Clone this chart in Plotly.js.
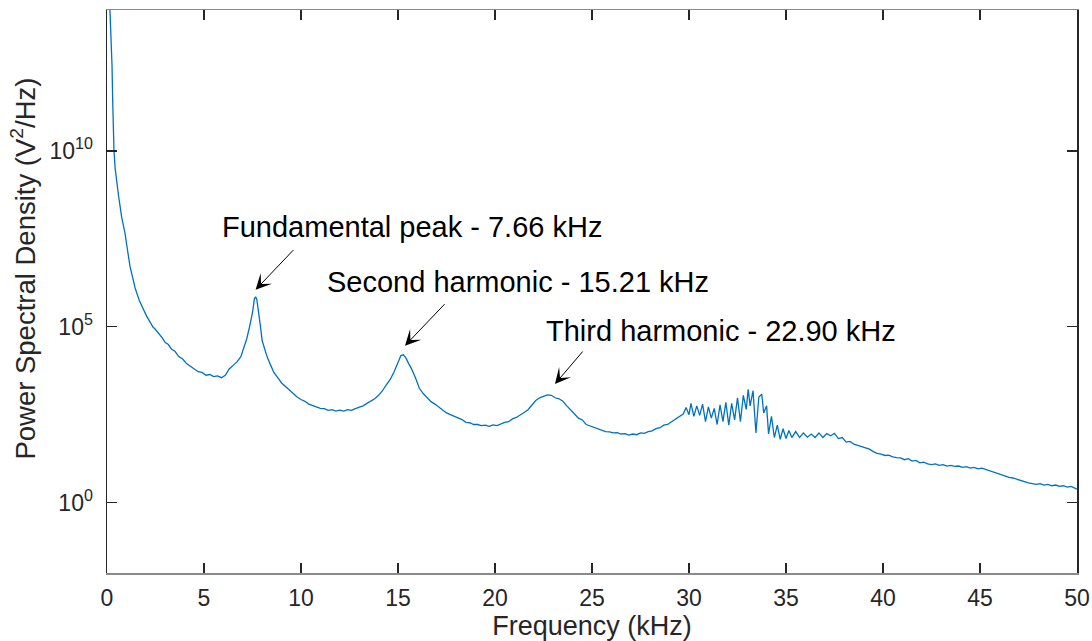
<!DOCTYPE html>
<html>
<head>
<meta charset="utf-8">
<script src="https://cdn.plot.ly/plotly-3.0.1.min.js"></script>
<style>html,body{margin:0;padding:0;background:#fff;}#chart{width:1092px;height:641px;}</style>
</head>
<body>
<div id="chart"></div>
<script>
// Frequency samples (kHz)
var freqKHz = [
0.05,0.10,0.15,0.19,0.22,0.26,0.29,0.32,0.36,0.42,0.50,0.60,0.76,0.93,1.05,1.19,1.30,1.45,1.66,1.85,
2.04,2.20,2.37,2.50,2.68,2.85,3.00,3.15,3.33,3.50,3.70,3.90,4.10,4.30,4.50,4.70,4.90,5.10,5.30,5.50,
5.70,5.90,6.10,6.30,6.50,6.70,6.90,7.05,7.20,7.35,7.50,7.60,7.66,7.72,7.80,7.90,8.00,8.10,8.25,8.40,
8.60,8.80,9.00,9.20,9.40,9.60,9.80,10.0,10.2,10.4,10.6,10.8,11.0,11.2,11.4,11.6,11.8,12.0,12.2,12.4,
12.6,12.8,13.0,13.2,13.4,13.6,13.8,14.0,14.2,14.4,14.6,14.8,15.0,15.15,15.27,15.4,15.55,15.7,15.9,16.1,
16.3,16.5,16.7,16.9,17.1,17.3,17.5,17.7,17.9,18.1,18.3,18.5,18.7,18.9,19.1,19.3,19.5,19.7,19.9,20.1,
20.3,20.5,20.7,20.9,21.1,21.3,21.5,21.7,21.9,22.1,22.3,22.5,22.7,22.9,23.1,23.3,23.5,23.7,23.9,24.1,
24.3,24.5,24.7,24.9,25.1,25.3,25.5,25.7,25.9,26.1,26.3,26.5,26.7,26.9,27.1,27.3,27.5,27.7,27.9,28.1,
28.3,28.5,28.7,28.9,29.1,29.3,29.5,29.7,29.85,30.0,30.1,30.25,30.4,30.55,30.7,30.85,31.0,31.15,31.3,31.45,
31.6,31.75,31.9,32.05,32.2,32.35,32.5,32.65,32.8,32.95,33.05,33.15,33.3,33.45,33.6,33.75,33.85,34.0,34.1,34.25,
34.4,34.55,34.7,34.85,35.0,35.15,35.3,35.5,35.7,35.9,36.1,36.3,36.5,36.7,36.9,37.1,37.3,37.5,37.7,37.9,
38.1,38.3,38.5,38.7,38.9,39.1,39.3,39.5,39.7,39.9,40.1,40.3,40.5,40.7,40.9,41.1,41.3,41.5,41.7,41.9,
42.1,42.3,42.5,42.7,42.9,43.1,43.3,43.5,43.7,43.9,44.1,44.3,44.5,44.7,44.9,45.1,45.3,45.5,45.7,45.9,
46.1,46.3,46.5,46.7,46.9,47.1,47.3,47.5,47.7,47.9,48.1,48.3,48.5,48.7,48.9,49.1,49.3,49.5,49.7,49.9,
50.0
];
// PSD, as log10(V^2/Hz)
var psdLog10 = [
15.5,14.8,14.2,13.9,13.0,12.4,11.5,10.8,10.0,9.5,9.1,8.7,8.1,7.65,7.2,6.7,6.45,6.1,5.75,5.5,
5.3,5.15,4.99,4.92,4.80,4.68,4.55,4.50,4.36,4.30,4.15,4.08,3.95,3.88,3.80,3.72,3.70,3.62,3.64,3.58,
3.60,3.55,3.62,3.80,3.90,4.00,4.15,4.40,4.65,5.00,5.40,5.80,5.85,5.78,5.50,5.05,4.60,4.40,4.15,3.95,
3.70,3.55,3.40,3.30,3.20,3.10,3.00,2.93,2.88,2.80,2.76,2.72,2.68,2.67,2.62,2.64,2.60,2.63,2.60,2.64,
2.62,2.67,2.70,2.75,2.82,2.88,2.95,3.05,3.18,3.35,3.50,3.72,3.98,4.18,4.20,4.12,3.95,3.80,3.55,3.25,
3.10,2.98,2.87,2.80,2.72,2.62,2.55,2.50,2.45,2.40,2.36,2.28,2.27,2.22,2.22,2.19,2.20,2.17,2.21,2.19,
2.24,2.28,2.30,2.38,2.42,2.48,2.56,2.64,2.78,2.90,2.98,3.02,3.06,3.05,2.98,2.95,2.88,2.75,2.62,2.52,
2.40,2.35,2.22,2.18,2.12,2.08,2.06,2.02,2.01,1.98,1.99,1.95,1.96,1.92,1.95,1.93,1.98,1.97,2.02,2.04,
2.10,2.13,2.20,2.22,2.30,2.38,2.45,2.52,2.70,2.50,2.82,2.45,2.75,2.48,2.80,2.30,2.72,2.40,2.68,2.22,
2.78,2.30,2.85,2.20,2.82,2.35,2.98,2.30,3.05,2.65,3.22,2.75,3.18,1.98,3.00,3.08,2.55,2.75,1.95,2.45,
1.85,2.20,1.80,2.10,1.82,2.05,1.85,2.02,1.85,1.98,1.86,1.95,1.85,1.98,1.85,1.96,1.90,1.97,1.82,1.85,
1.72,1.74,1.66,1.63,1.58,1.56,1.52,1.45,1.40,1.38,1.34,1.35,1.30,1.28,1.27,1.22,1.25,1.18,1.20,1.13,
1.15,1.10,1.08,1.10,1.06,1.08,1.04,1.06,1.03,1.04,1.00,1.02,0.98,1.00,0.96,0.98,0.94,0.90,0.86,0.82,
0.78,0.76,0.72,0.70,0.66,0.64,0.60,0.56,0.54,0.52,0.54,0.50,0.52,0.48,0.50,0.46,0.48,0.44,0.46,0.40,
0.38
];
var xTickVals = [0,5,10,15,20,25,30,35,40,45,50];
var yTickVals = [1, 1e5, 1e10];
var yTickText = ['10<sup>0</sup>','10<sup>5</sup>','10<sup>10</sup>'];

var peakLabels = ['Fundamental peak - 7.66 kHz','Second harmonic - 15.21 kHz','Third harmonic - 22.90 kHz'];
var peakFreq = [7.66, 15.36, 23.09];
var peakArrowLog10 = [6.05, 4.46, 3.37];

var psd = psdLog10.map(function(v){ return Math.pow(10, v); });

var FONT = 'Liberation Sans, Arial, sans-serif';
var DARK = '#262626';

var labelPos = [[0.3144,0.6137],[0.4232,0.5169],[0.6328,0.4307]];
var arrowOff = [[39,-41],[41,-43],[29,-34]];

var annotations = [];
for (var i=0;i<peakLabels.length;i++){
  annotations.push({
    xref:'paper', yref:'paper', x:labelPos[i][0], y:labelPos[i][1],
    xanchor:'center', yanchor:'middle', text:peakLabels[i], showarrow:false,
    font:{family:FONT, size:29, color:'#000'}
  });
  annotations.push({
    xref:'x', yref:'y', x:peakFreq[i], y:peakArrowLog10[i], text:'',
    showarrow:true, arrowhead:3, arrowsize:2.6, arrowwidth:1, arrowcolor:'#000',
    ax:arrowOff[i][0], ay:arrowOff[i][1], standoff:0
  });
}

var trace = {
  x: freqKHz, y: psd, type:'scatter', mode:'lines',
  line:{color:'#0072BD', width:1.3}, hoverinfo:'skip'
};

var layout = {
  width:1092, height:641,
  margin:{l:107, r:15, t:10, b:68, pad:0},
  paper_bgcolor:'#fff', plot_bgcolor:'#fff',
  showlegend:false,
  font:{family:FONT, color:DARK},
  xaxis:{
    range:[0,50], tickmode:'array', tickvals:xTickVals,
    ticks:'inside', ticklen:10, tickwidth:1.5, tickcolor:DARK,
    showline:true, linecolor:'#8a8a8a', linewidth:1.5, mirror:'ticks',
    showgrid:false, zeroline:false,
    tickfont:{family:FONT, size:23, color:DARK},
    ticklabelstandoff:4,
    title:{text:'Frequency (kHz)', font:{family:FONT, size:27, color:DARK}, standoff:8}
  },
  yaxis:{
    type:'log', range:[-2,14], tickmode:'array', tickvals:yTickVals, ticktext:yTickText,
    ticks:'inside', ticklen:10, tickwidth:1.5, tickcolor:DARK,
    showline:true, linecolor:DARK, linewidth:1.5, mirror:'ticks',
    showgrid:false, zeroline:false,
    tickfont:{family:FONT, size:23, color:DARK},
    ticklabelstandoff:8,
    title:{text:'&nbsp;&nbsp;&nbsp;&nbsp;&nbsp;&nbsp;Power Spectral Density (V<sup>2</sup>/Hz)', font:{family:FONT, size:27.5, color:DARK}, standoff:6}
  },
  annotations: annotations
};

Plotly.newPlot('chart',[trace],layout,{displayModeBar:false, staticPlot:true});
</script>
</body>
</html>
